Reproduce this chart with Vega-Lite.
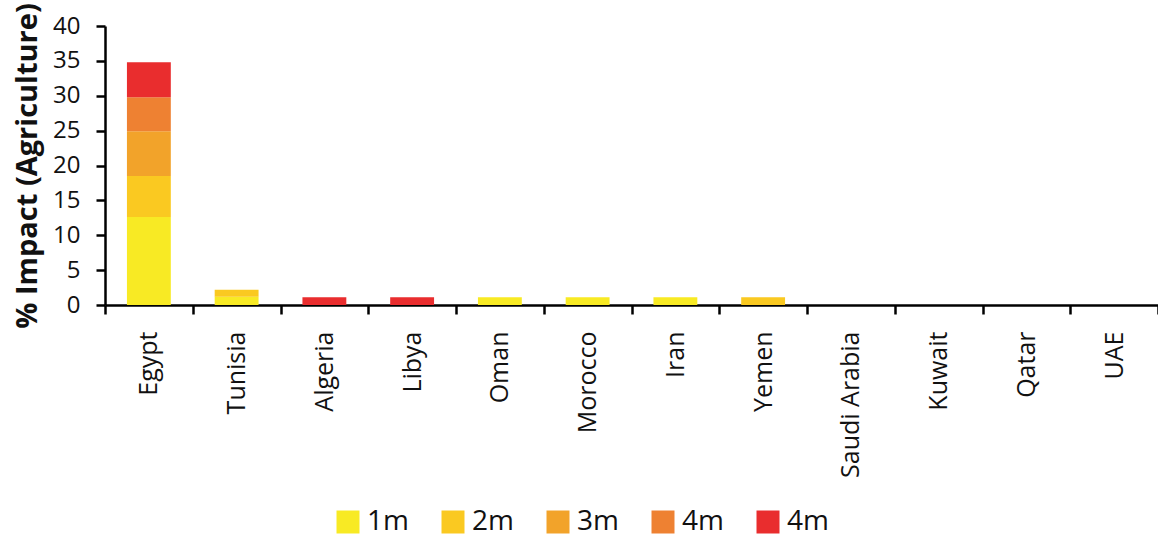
{
  "$schema": "https://vega.github.io/schema/vega-lite/v6.json",
  "width": 1053,
  "height": 279,
  "autosize": {"type": "none"},
  "padding": {"left": 105, "top": 26, "right": 0, "bottom": 233},
  "config": {
    "font": "Open Sans",
    "view": {"stroke": null},
    "axis": {"grid": false, "domainColor": "#000", "tickColor": "#000", "labelColor": "#111", "titleColor": "#111", "domainWidth": 2.5, "tickWidth": 2.5}
  },
  "data": {
    "values": [
      {"country": "Egypt", "period": "1m", "k": 1, "value": 12.6},
      {"country": "Egypt", "period": "2m", "k": 2, "value": 5.9},
      {"country": "Egypt", "period": "3m", "k": 3, "value": 6.4},
      {"country": "Egypt", "period": "4m", "k": 4, "value": 4.9},
      {"country": "Egypt", "period": "4m ", "k": 5, "value": 5.0},
      {"country": "Tunisia", "period": "1m", "k": 1, "value": 1.2},
      {"country": "Tunisia", "period": "2m", "k": 2, "value": 1.0},
      {"country": "Algeria", "period": "4m ", "k": 5, "value": 1.1},
      {"country": "Libya", "period": "4m ", "k": 5, "value": 1.1},
      {"country": "Oman", "period": "1m", "k": 1, "value": 1.1},
      {"country": "Morocco", "period": "1m", "k": 1, "value": 1.1},
      {"country": "Iran", "period": "1m", "k": 1, "value": 1.1},
      {"country": "Yemen", "period": "2m", "k": 2, "value": 1.1},
      {"country": "Saudi Arabia", "period": "1m", "k": 1, "value": 0},
      {"country": "Kuwait", "period": "1m", "k": 1, "value": 0},
      {"country": "Qatar", "period": "1m", "k": 1, "value": 0},
      {"country": "UAE", "period": "1m", "k": 1, "value": 0}
    ]
  },
  "mark": {"type": "bar", "width": {"band": 0.5}},
  "encoding": {
    "x": {
      "field": "country",
      "type": "nominal",
      "sort": ["Egypt", "Tunisia", "Algeria", "Libya", "Oman", "Morocco", "Iran", "Yemen", "Saudi Arabia", "Kuwait", "Qatar", "UAE"],
      "scale": {"paddingInner": 0, "paddingOuter": 0},
      "axis": {
        "title": null,
        "labelAngle": 270,
        "labelAlign": "right",
        "labelBaseline": "middle",
        "labelFontSize": 25,
        "labelPadding": 17,
        "tickBand": "extent",
        "tickSize": 9,
        "domain": true,
        "domainWidth": 2.5
      }
    },
    "y": {
      "field": "value",
      "type": "quantitative",
      "aggregate": "sum",
      "stack": "zero",
      "scale": {"domain": [0, 40], "nice": false},
      "axis": {
        "title": "% Impact (Agriculture)",
        "titleFontSize": 29,
        "titleFontWeight": "bold",
        "titlePadding": 10,
        "labelFontSize": 24,
        "labelPadding": 16,
        "values": [0, 5, 10, 15, 20, 25, 30, 35, 40],
        "tickSize": 9,
        "domain": true,
        "domainWidth": 2.5,
        "domainColor": "#000"
      }
    },
    "color": {
      "field": "period",
      "type": "nominal",
      "scale": {
        "domain": ["1m", "2m", "3m", "4m", "4m "],
        "range": ["#f8ea24", "#fac921", "#f2a32a", "#ee8132", "#e92d2e"]
      },
      "legend": {
        "title": null,
        "orient": "none",
        "direction": "horizontal",
        "legendX": 229,
        "legendY": 482,
        "symbolType": "square",
        "symbolSize": 529,
        "symbolStrokeWidth": 0,
        "labelFontSize": 28,
        "labelColor": "#111",
        "labelOffset": 5,
        "columnPadding": 30
      }
    },
    "order": {"field": "k", "type": "quantitative"}
  }
}
